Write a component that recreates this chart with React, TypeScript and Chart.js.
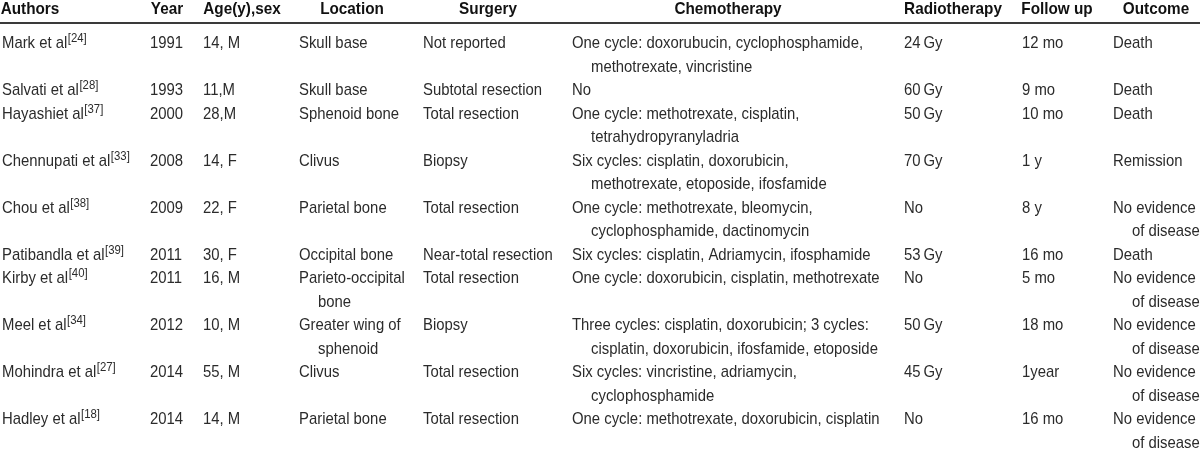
import React, { useEffect, useRef } from "react";
import { Chart, registerables } from "chart.js";

Chart.register(...registerables);

// ---------- data ----------
const headers = ["Authors", "Year", "Age(y),sex", "Location", "Surgery", "Chemotherapy", "Radiotherapy", "Follow up", "Outcome"];
const authors = ["Mark et al", "Salvati et al", "Hayashiet al", "Chennupati et al", "Chou et al", "Patibandla et al", "Kirby et al", "Meel et al", "Mohindra et al", "Hadley et al"];
const references = ["[24]", "[28]", "[37]", "[33]", "[38]", "[39]", "[40]", "[34]", "[27]", "[18]"];
const years = ["1991", "1993", "2000", "2008", "2009", "2011", "2011", "2012", "2014", "2014"];
const ageSex = ["14, M", "11,M", "28,M", "14, F", "22, F", "30, F", "16, M", "10, M", "55, M", "14, M"];
const locations = ["Skull base", "Skull base", "Sphenoid bone", "Clivus", "Parietal bone", "Occipital bone", "Parieto-occipital\nbone", "Greater wing of\nsphenoid", "Clivus", "Parietal bone"];
const surgeries = ["Not reported", "Subtotal resection", "Total resection", "Biopsy", "Total resection", "Near-total resection", "Total resection", "Biopsy", "Total resection", "Total resection"];
const chemotherapies = [
  "One cycle: doxorubucin, cyclophosphamide,\nmethotrexate, vincristine",
  "No",
  "One cycle: methotrexate, cisplatin,\ntetrahydropyranyladria",
  "Six cycles: cisplatin, doxorubicin,\nmethotrexate, etoposide, ifosfamide",
  "One cycle: methotrexate, bleomycin,\ncyclophosphamide, dactinomycin",
  "Six cycles: cisplatin, Adriamycin, ifosphamide",
  "One cycle: doxorubicin, cisplatin, methotrexate",
  "Three cycles: cisplatin, doxorubicin; 3 cycles:\ncisplatin, doxorubicin, ifosfamide, etoposide",
  "Six cycles: vincristine, adriamycin,\ncyclophosphamide",
  "One cycle: methotrexate, doxorubicin, cisplatin",
];
const radiotherapies = ["24\u2009Gy", "60\u2009Gy", "50\u2009Gy", "70\u2009Gy", "No", "53\u2009Gy", "No", "50\u2009Gy", "45\u2009Gy", "No"];
const followUps = ["12 mo", "9 mo", "10 mo", "1 y", "8 y", "16 mo", "5 mo", "18 mo", "1year", "16 mo"];
const outcomes = ["Death", "Death", "Death", "Remission", "No evidence\nof disease", "Death", "No evidence\nof disease", "No evidence\nof disease", "No evidence\nof disease", "No evidence\nof disease"];

const columns = [authors, years, ageSex, locations, surgeries, chemotherapies, radiotherapies, followUps, outcomes];

// ---------- layout / style ----------
const W = 1200;
const H = 450;
const FIRST_LINE_PX = 42;
const LINE_PX = 23.5;
const Y_MIN = -FIRST_LINE_PX / LINE_PX;
const Y_MAX = Y_MIN + H / LINE_PX;
const HEADER_LINE = (7.5 - FIRST_LINE_PX) / LINE_PX;
const RULE_LINE = (23.5 - FIRST_LINE_PX) / LINE_PX;
const colLeft = [2, 150, 203, 299, 423, 572, 904, 1022, 1113];
const headerCenter = [30, 167, 242, 352, 488, 728, 953, 1057, 1156];
const INDENT = 19;
const FAMILY = '"Liberation Sans", Arial, sans-serif';
const FS = 17;
const SUP_FS = 13;
const CAP = 12;
const BODY_SX = 0.875;
const HEAD_SX = 0.9;
const TEXT_COLOR = "#2b2b2b";
const HEADER_COLOR = "#111111";
const RULE_COLOR = "#3a3a3a";

// line index of each row
const rowLineCounts = authors.map((_, r) => Math.max(...columns.map((col) => col[r].split("\n").length)));
const rowStart = rowLineCounts.map((_, r) => rowLineCounts.slice(0, r).reduce((a, b) => a + b, 0));

function drawScaled(ctx: CanvasRenderingContext2D, t: string, px: number, py: number, sx: number) {
  ctx.save();
  ctx.translate(px, py);
  ctx.scale(sx, 1);
  ctx.fillText(t, 0, 0);
  ctx.restore();
  return ctx.measureText(t).width * sx;
}

const tablePlugin = {
  id: "tableText",
  beforeDraw(chart: any) {
    const { ctx } = chart;
    ctx.save();
    ctx.fillStyle = "#ffffff";
    ctx.fillRect(0, 0, chart.width, chart.height);
    ctx.restore();
  },
  afterDatasetsDraw(chart: any) {
    const { ctx } = chart;
    const x = chart.scales.x;
    const y = chart.scales.y;
    ctx.save();
    // header
    ctx.font = `bold ${FS}px ${FAMILY}`;
    ctx.fillStyle = HEADER_COLOR;
    ctx.textAlign = "center";
    ctx.textBaseline = "alphabetic";
    headers.forEach((h, c) => {
      drawScaled(ctx, h, x.getPixelForValue(headerCenter[c]), y.getPixelForValue(HEADER_LINE) + CAP / 2, HEAD_SX);
    });
    // rule under header
    ctx.strokeStyle = RULE_COLOR;
    ctx.lineWidth = 2;
    ctx.beginPath();
    const ry = Math.round(y.getPixelForValue(RULE_LINE));
    ctx.moveTo(x.getPixelForValue(0), ry);
    ctx.lineTo(x.getPixelForValue(W), ry);
    ctx.stroke();
    // body
    ctx.textAlign = "left";
    ctx.fillStyle = TEXT_COLOR;
    authors.forEach((_, r) => {
      columns.forEach((col, c) => {
        const lines = col[r].split("\n");
        lines.forEach((t, k) => {
          ctx.font = `${FS}px ${FAMILY}`;
          const px = x.getPixelForValue(colLeft[c]) + (k > 0 ? INDENT : 0);
          const py = y.getPixelForValue(rowStart[r] + k) + CAP / 2;
          const w = drawScaled(ctx, t, px, py, BODY_SX);
          if (c === 0 && k === 0) {
            ctx.font = `${SUP_FS}px ${FAMILY}`;
            drawScaled(ctx, references[r], px + w + 0.5, py - 6, BODY_SX);
          }
        });
      });
    });
    ctx.restore();
  },
};

export default function App() {
  const ref = useRef<HTMLCanvasElement | null>(null);
  useEffect(() => {
    if (!ref.current) return;
    const points: { x: number; y: number }[] = [];
    authors.forEach((_, r) => {
      columns.forEach((col, c) => {
        col[r].split("\n").forEach((_t, k) => points.push({ x: colLeft[c], y: rowStart[r] + k }));
      });
    });
    const chart = new Chart(ref.current, {
      type: "scatter",
      data: { datasets: [{ data: points, pointRadius: 0, pointHoverRadius: 0, showLine: false }] },
      options: {
        animation: false,
        responsive: false,
        devicePixelRatio: 1,
        layout: { padding: 0 },
        events: [],
        plugins: { legend: { display: false }, tooltip: { enabled: false } },
        scales: {
          x: { type: "linear", min: 0, max: W, display: false },
          y: { type: "linear", min: Y_MIN, max: Y_MAX, reverse: true, display: false },
        },
      },
      plugins: [tablePlugin],
    } as any);
    return () => chart.destroy();
  }, []);
  return (
    <div style={{ position: "fixed", left: 0, top: 0, width: W, height: H, background: "#fff" }}>
      <canvas ref={ref} width={W} height={H} style={{ display: "block", width: W, height: H }} />
    </div>
  );
}
